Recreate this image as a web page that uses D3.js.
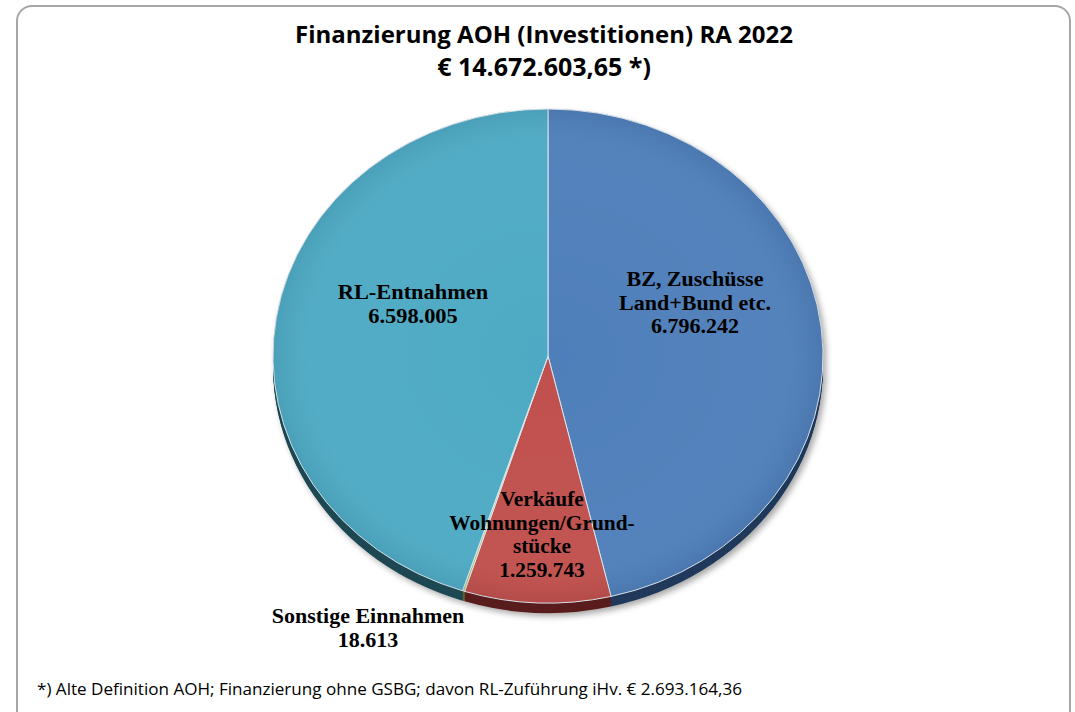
<!DOCTYPE html>
<html>
<head>
<meta charset="utf-8">
<script src="https://cdn.jsdelivr.net/npm/d3@7"></script>
<style>
  body { margin: 0; background: #fff; }
</style>
</head>
<body>
<div id="chart"></div>
<script>
// data
var categories = ["BZ, Zuschüsse Land+Bund etc.", "Verkäufe Wohnungen/Grundstücke", "Sonstige Einnahmen", "RL-Entnahmen"];
var values = [6796242, 1259743, 18613, 6598005];
var valueLabels = ["6.796.242", "1.259.743", "18.613", "6.598.005"];
var labelLines = [
    ["BZ, Zuschüsse", "Land+Bund etc."],
    ["Verkäufe", "Wohnungen/Grund-", "stücke"],
    ["Sonstige Einnahmen"],
    ["RL-Entnahmen"]
];
var titleLines = ["Finanzierung AOH (Investitionen) RA 2022", "€ 14.672.603,65 *)"];
var footnote = "*) Alte Definition AOH; Finanzierung ohne GSBG; davon RL-Zuführung iHv. € 2.693.164,36";

var topColors = ["#4f7fba", "#c0504d", "#a9c46a", "#4eaac4"];
var sideColors = ["#213a5b", "#5a1f1e", "#55662c", "#1f4853"];

let width = 1075;
let height = 712;
var pieCenter = {x: 548, y: 356};
var rx = 275, ry = 247, depth = 10;

// label anchor (center / baseline of first line), in pixels
var labelAnchor = [
    {x: 695, y: 286},
    {x: 542, y: 506},
    {x: 368, y: 623},
    {x: 413, y: 299}
];
var labelStretch = [1.1, 1.07, 1.1, 1.12];
var lineStep = 23.6;

var svg = d3.select("#chart").append("svg")
    .attr("width", width)
    .attr("height", height);

var defs = svg.append("defs");
defs.append("filter").attr("id", "shadow")
    .attr("x", "-10%").attr("y", "-10%").attr("width", "120%").attr("height", "125%")
    .append("feDropShadow")
    .attr("dx", 3).attr("dy", 3).attr("stdDeviation", 3)
    .attr("flood-color", "#000").attr("flood-opacity", 0.35);

var shade = defs.append("radialGradient").attr("id", "shade")
    .attr("cx", "50%").attr("cy", "50%").attr("r", "50%");
shade.append("stop").attr("offset", "0%").attr("stop-color", "#fff").attr("stop-opacity", 0.0);
shade.append("stop").attr("offset", "85%").attr("stop-color", "#fff").attr("stop-opacity", 0.03);
shade.append("stop").attr("offset", "100%").attr("stop-color", "#000").attr("stop-opacity", 0.06);

// frame
svg.append("rect")
    .attr("x", 17).attr("y", 6)
    .attr("width", 1053).attr("height", 730)
    .attr("rx", 15).attr("ry", 15)
    .attr("fill", "#fff")
    .attr("stroke", "#a6a6a6")
    .attr("stroke-width", 2);

// title
svg.selectAll(".title")
    .data(titleLines)
    .enter().append("text")
    .attr("class", "title")
    .attr("x", 544)
    .attr("y", function(d, i) { return 43 + i * 33; })
    .attr("text-anchor", "middle")
    .style("font-family", "'Open Sans', sans-serif")
    .style("font-weight", "bold")
    .style("font-size", function(d, i) { return i === 0 ? "24px" : "25px"; })
    .style("fill", "#000")
    .text(function(d) { return d; });

var pie = d3.pie().sort(null).value(function(d) { return d; });
var arcs = pie(values);
var arc = d3.arc().innerRadius(0).outerRadius(rx);

// side of the 3D pie
var side = svg.append("g").attr("filter", "url(#shadow)");
for (let k = depth; k >= 1; k--) {
    side.append("g")
        .attr("transform", "translate(" + pieCenter.x + "," + (pieCenter.y + k) + ") scale(1," + (ry / rx) + ")")
        .selectAll("path")
        .data(arcs)
        .enter().append("path")
        .attr("d", arc)
        .attr("fill", function(d, i) { return sideColors[i]; });
}

// top face
var topFace = svg.append("g")
    .attr("transform", "translate(" + pieCenter.x + "," + pieCenter.y + ") scale(1," + (ry / rx) + ")");
topFace.selectAll("path.slice")
    .data(arcs)
    .enter().append("path")
    .attr("class", "slice")
    .attr("d", arc)
    .attr("fill", function(d, i) { return topColors[i]; })
    .attr("stroke", "#dce6ee")
    .attr("stroke-width", 1)
    .attr("vector-effect", "non-scaling-stroke");
topFace.append("circle")
    .attr("r", rx)
    .attr("fill", "url(#shade)");

// labels
var labels = svg.selectAll(".lbl")
    .data(categories)
    .enter().append("text")
    .attr("class", "lbl")
    .attr("text-anchor", "middle")
    .attr("transform", function(d, i) {
        var cx = labelAnchor[i].x;
        return "translate(" + cx + ",0) scale(" + labelStretch[i] + ",1) translate(" + (-cx) + ",0)";
    })
    .style("font-family", "'Liberation Serif', 'Times New Roman', serif")
    .style("font-weight", "bold")
    .style("font-size", "20px")
    .style("fill", "#000");

labels.each(function(d, i) {
    var lines = labelLines[i].concat([valueLabels[i]]);
    var t = d3.select(this);
    lines.forEach(function(l, j) {
        t.append("tspan")
            .attr("x", labelAnchor[i].x)
            .attr("y", labelAnchor[i].y + j * lineStep)
            .text(l);
    });
});

// footnote
svg.append("text")
    .attr("x", 37)
    .attr("y", 695)
    .attr("textLength", 705)
    .attr("lengthAdjust", "spacingAndGlyphs")
    .style("font-family", "'Open Sans', sans-serif")
    .style("font-size", "16px")
    .style("fill", "#000")
    .text(footnote);
</script>
</body>
</html>
